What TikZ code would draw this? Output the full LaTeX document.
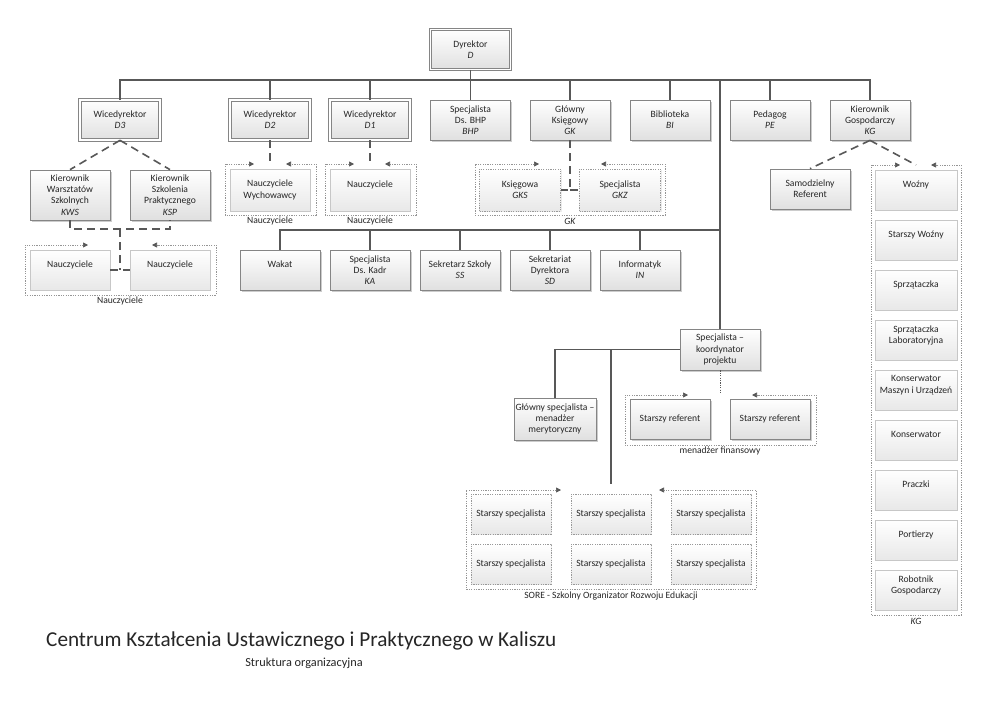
\documentclass[tikz,border=0pt]{standalone}
\usepackage{fontspec}
\setmainfont{Carlito}
\usetikzlibrary{shadows,arrows.meta}
\definecolor{lnc}{HTML}{585858}
\definecolor{bdc}{HTML}{858585}
\definecolor{txc}{HTML}{262626}
\definecolor{fillb}{HTML}{E0E0E0}
\definecolor{grpc}{HTML}{959595}
\tikzset{
 conn/.style={draw=lnc, line width=1.5pt},
 dconn/.style={draw=lnc, line width=1.6pt, dash pattern=on 8pt off 5pt},
 dotconn/.style={draw=lnc, line width=0.9pt, dash pattern=on 1.2pt off 1.2pt},
 grp/.style={draw=grpc, line width=0.7pt, dash pattern=on 1.2pt off 1.2pt},
 grptip/.style={{Triangle[length=5pt,width=5pt,color=lnc]}-{Triangle[length=5pt,width=5pt,color=lnc]}},
 txt/.style={font=\fontsize{9.6}{11.3}\selectfont, text=txc, align=center},
 box/.style={txt, draw=bdc, line width=0.75pt, top color=white, bottom color=fillb,
   minimum width=80pt, minimum height=40pt, inner sep=1pt,
   drop shadow={shadow xshift=1.5pt, shadow yshift=-1.5pt, opacity=0.4}},
 dbox/.style={box, double=white, double distance=1.8pt, line width=0.65pt},
 ibox/.style={txt, draw=black!22, line width=0.6pt, top color=white, bottom color=black!9,
   minimum width=80pt, minimum height=40pt, inner sep=1pt,
   drop shadow={shadow xshift=1pt, shadow yshift=-1pt, opacity=0.15}},
 dibox/.style={ibox, draw=black!40, dash pattern=on 1.2pt off 1.2pt},
 lbl/.style={txt, inner sep=1pt},
}
\begin{document}
\begin{tikzpicture}[x=1pt,y=-1pt]
\fill[white] (0,0) rectangle (992,701);
\useasboundingbox (0,0) rectangle (992,701);

% ---- top level
\node[dbox] (dyr) at (470.5,49.5) {Dyrektor\\\textit{D}};
\node[dbox] (d3) at (120,120) {Wicedyrektor\\\textit{D3}};
\node[dbox] (d2) at (270,120) {Wicedyrektor\\\textit{D2}};
\node[dbox] (d1) at (370,120) {Wicedyrektor\\\textit{D1}};
\node[box] (bhp) at (470.5,120) {Specjalista\\Ds. BHP\\\textit{BHP}};
\node[box] (gk) at (570,120) {Główny\\Księgowy\\\textit{GK}};
\node[box] (bi) at (670,120) {Biblioteka\\\textit{BI}};
\node[box] (pe) at (770,120) {Pedagog\\\textit{PE}};
\node[box] (kg) at (870,120) {Kierownik\\Gospodarczy\\\textit{KG}};

% ---- D3 branch
\node[box, minimum height=50pt] (kws) at (70,195) {Kierownik\\Warsztatów\\Szkolnych\\\textit{KWS}};
\node[box, minimum height=50pt] (ksp) at (170,195) {Kierownik\\Szkolenia\\Praktycznego\\\textit{KSP}};
\draw[grp,grptip] (88,245) -- (25,245) -- (25,295) -- (216,295) -- (216,245) -- (152,245);
\node[ibox] (n3a) at (70,270) {Nauczyciele\\\mbox{}};
\node[ibox] (n3b) at (170,270) {Nauczyciele\\\mbox{}};
\node[lbl] (l3) at (120,301) {Nauczyciele};

% ---- D2 branch
\draw[grp,grptip] (254,164) -- (225,164) -- (225,215) -- (316,215) -- (316,164) -- (286,164);
\node[ibox, minimum height=42pt] (nw) at (270,190) {Nauczyciele\\Wychowawcy};
\node[lbl] (l2) at (270,221) {Nauczyciele};

% ---- D1 branch
\draw[grp,grptip] (354,164) -- (325,164) -- (325,215) -- (416,215) -- (416,164) -- (385,164);
\node[ibox, minimum height=42pt] (n1) at (370,190) {Nauczyciele\\\mbox{}};
\node[lbl] (l1) at (370,221) {Nauczyciele};

% ---- GK branch
\draw[grp,grptip] (539,164) -- (475,164) -- (475,215) -- (665,215) -- (665,164) -- (601,164);
\node[dibox, minimum width=81pt, minimum height=42pt] (gks) at (520,190) {Księgowa\\\textit{GKS}};
\node[dibox, minimum width=81pt, minimum height=42pt] (gkz) at (620,190) {Specjalista\\\textit{GKZ}};
\node[lbl] (lgk) at (570,221) {\textit{GK}};

% ---- KG branch
\node[box] (sref) at (810,189) {Samodzielny\\Referent};
\draw[grp,grptip] (900,165) -- (871,165) -- (871,615) -- (961,615) -- (961,165) -- (931,165);
\node[ibox, minimum width=82pt] (k1) at (916,190) {Woźny\\\mbox{}};
\node[ibox, minimum width=82pt] (k2) at (916,240) {Starszy Woźny\\\mbox{}};
\node[ibox, minimum width=82pt] (k3) at (916,290) {Sprzątaczka\\\mbox{}};
\node[ibox, minimum width=82pt] (k4) at (916,340) {Sprzątaczka\\Laboratoryjna\\\mbox{}};
\node[ibox, minimum width=82pt] (k5) at (916,390) {Konserwator\\Maszyn i Urządzeń\\\mbox{}};
\node[ibox, minimum width=82pt] (k6) at (916,440) {Konserwator\\\mbox{}};
\node[ibox, minimum width=82pt] (k7) at (916,490) {Praczki\\\mbox{}};
\node[ibox, minimum width=82pt] (k8) at (916,540) {Portierzy\\\mbox{}};
\node[ibox, minimum width=82pt] (k9) at (916,590) {Robotnik\\Gospodarczy\\\mbox{}};
\node[lbl] (lkg) at (916,621) {\textit{KG}};

% ---- second row
\node[box] (wakat) at (280,270) {Wakat\\\mbox{}};
\node[box] (ka) at (370,270) {Specjalista\\Ds. Kadr\\\textit{KA}};
\node[box] (ss) at (460,270) {Sekretarz Szkoły\\\textit{SS}};
\node[box] (sd) at (550,270) {Sekretariat\\Dyrektora\\\textit{SD}};
\node[box] (in) at (640,270) {Informatyk\\\textit{IN}};

% ---- project
\node[box, minimum height=41pt] (koord) at (720,349.5) {Specjalista –\\koordynator\\projektu};
\node[box, minimum width=82pt, minimum height=42pt] (gs) at (555,419) {Główny specjalista –\\menadżer\\merytoryczny};
\draw[grp,grptip] (688,395) -- (625,395) -- (625,445) -- (816,445) -- (816,395) -- (752,395);
\node[box] (sr1) at (670,419) {Starszy referent};
\node[box] (sr2) at (770,419) {Starszy referent};
\node[lbl] (lfin) at (720,451) {menadżer finansowy};

\draw[grp,grptip] (561,490) -- (466,490) -- (466,589) -- (756,589) -- (756,490) -- (659,490);
\node[dibox] (s1) at (511,514) {Starszy specjalista};
\node[dibox] (s2) at (611,514) {Starszy specjalista};
\node[dibox] (s3) at (711,514) {Starszy specjalista};
\node[dibox] (s4) at (511,564) {Starszy specjalista};
\node[dibox] (s5) at (611,564) {Starszy specjalista};
\node[dibox] (s6) at (711,564) {Starszy specjalista};
\node[lbl] (lsore) at (611,596) {SORE - Szkolny Organizator Rozwoju Edukacji};

% ---- title
\node[anchor=base west, inner sep=0pt, font=\fontsize{21.2}{24}\selectfont, text=txc] (title) at (46,646.5) {Centrum Kształcenia Ustawicznego i Praktycznego w Kaliszu};
\node[anchor=base, inner sep=0pt, font=\fontsize{12.3}{15}\selectfont, text=txc] (sub) at (304,666.5) {Struktura organizacyjna};

% ---- connectors
\coordinate (busL) at (120,80);
\coordinate (busV) at (720,80);
\draw[conn] (dyr.south) -- (dyr.south |- busL);
\draw[conn] (d3.north) |- (kg.north |- busL) -- (kg.north);
\foreach \n in {d2,d1,bhp,gk,bi,pe} \draw[conn] (\n.north) -- (\n.north |- busL);
\draw[conn] (busV) -- (koord.north);
\coordinate (bus2) at (720,230);
\draw[conn] (wakat.north) |- (bus2);
\foreach \n in {ka,ss,sd,in} \draw[conn] (\n.north) -- (\n.north |- bus2);

\draw[conn] (koord.west) -| (gs.north);
\coordinate (sj) at (611,349.5);
\coordinate (st) at (611,484);
\draw[conn] (sj) -- (st);
\coordinate (fint) at (720,394);
\draw[dotconn] (koord.south) -- (fint);

\draw[dconn] (d3.south) -- (kws.north);
\draw[dconn] (d3.south) -- (ksp.north);
\coordinate (j3) at (120,229);
\draw[dconn] (kws.south) |- (j3) -| (ksp.south);
\draw[dconn] (j3) -- (j3 |- n3a.east);
\draw[dconn] (n3a.east) -- (n3b.west);
\coordinate (g2t) at (270,163);
\coordinate (g1t) at (370,163);
\draw[dconn] (d2.south) -- (g2t);
\draw[dconn] (d1.south) -- (g1t);
\coordinate (gkj) at (570,190);
\draw[dconn] (gk.south) -- (gkj) -- (gks.east);
\draw[dconn] (gkj) -- (gkz.west);
\coordinate (kgt) at (916,165);
\draw[dconn] (kg.south) -- (sref.north);
\draw[dconn] (kg.south) -- (kgt);
\end{tikzpicture}
\end{document}
